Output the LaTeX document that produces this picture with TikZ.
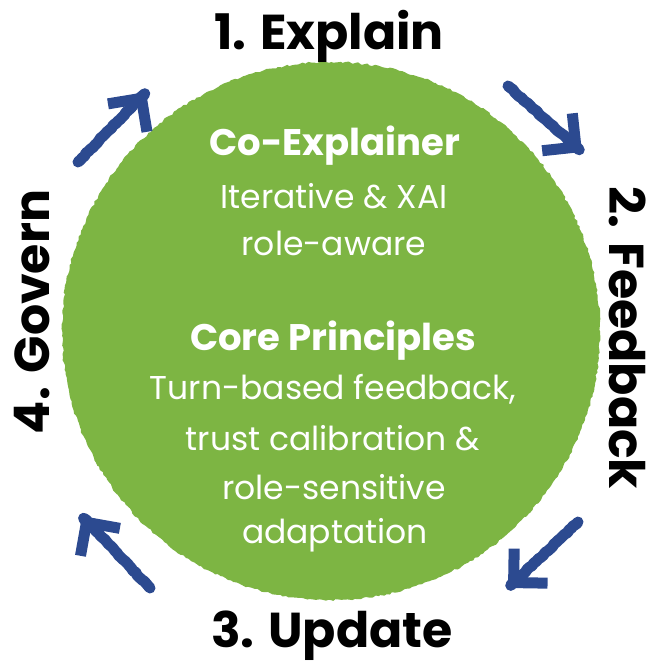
\documentclass[tikz,border=0pt]{standalone}
\usepackage{fontspec}
\setmainfont{Poppins}
\usetikzlibrary{arrows.meta,decorations.pathmorphing}
\definecolor{leaf}{HTML}{7DB543}
\definecolor{ink}{HTML}{2C4A90}
\tikzset{
  stage/.style={font=\fontsize{49}{52}\selectfont\bfseries, text=black, inner sep=0pt},
  head/.style={font=\fontsize{37}{40}\selectfont\bfseries, text=white, inner sep=0pt},
  body/.style={font=\fontsize{33}{36}\selectfont, text=white, inner sep=0pt},
  cycle/.style={draw=ink, line width=11pt, line cap=round, line join=round,
    -{Straight Barb[length=24pt,width=48pt,line width=11pt]},
    decorate, decoration={random steps,segment length=3pt,amplitude=0.6pt}},
}
\begin{document}
\begin{tikzpicture}[x=1pt,y=-1pt]
  \useasboundingbox (0,0) rectangle (659,666);
  % central disc with a slightly rough rim
  \fill[leaf, decorate, decoration={random steps,segment length=3pt,amplitude=1pt}]
    (331,331) circle (269);
  \coordinate (hub) at (331,331);

  % stage labels around the disc
  \node[stage] (explain) at (329,36) {1. Explain};
  \node[stage, rotate=-90] (feedback) at (628,338) {2. Feedback};
  \node[stage] (update) at (332,636) {3. Update};
  \node[stage, rotate=90] (govern) at (32,312) {4. Govern};

  % text inside the disc
  \node[head] (coexp) at (335,146) {Co-Explainer};
  \node[body] (iter) at (334,196) {Iterative \& XAI};
  \node[body] (aware) at (334,243) {role-aware};
  \node[head] (core) at (333,341) {Core Principles};
  \node[body] (turn) at (333,389) {Turn-based feedback,};
  \node[body] (trust) at (333,438) {trust calibration \&};
  \node[body] (rolesens) at (334,487) {role-sensitive};
  \node[body] (adapt) at (335,535) {adaptation};

  % cycle arrows
  \coordinate (a1s) at (78,162);  \coordinate (a1e) at (146,92);
  \coordinate (a2s) at (508,86);  \coordinate (a2e) at (582,152);
  \coordinate (a3s) at (578,522); \coordinate (a3e) at (508,588);
  \coordinate (a4s) at (150,588); \coordinate (a4e) at (82,516);
  \draw[cycle] (a1s) -- (a1e);
  \draw[cycle] (a2s) -- (a2e);
  \draw[cycle] (a3s) -- (a3e);
  \draw[cycle] (a4s) -- (a4e);
\end{tikzpicture}
\end{document}
